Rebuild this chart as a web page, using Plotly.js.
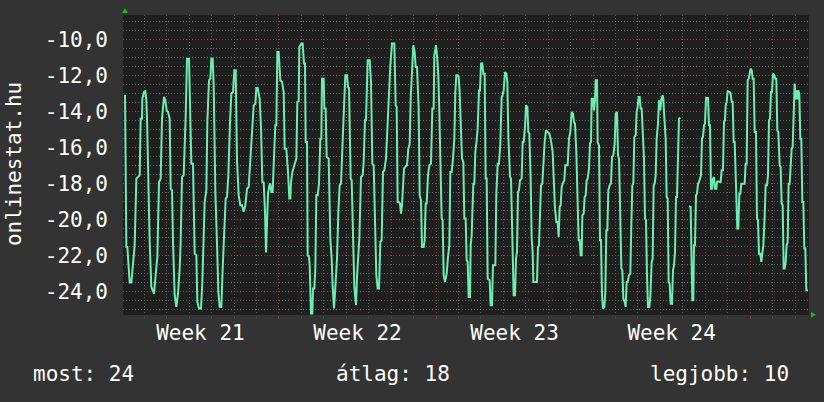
<!DOCTYPE html>
<html>
<head>
<meta charset="utf-8">
<script src="https://cdn.plot.ly/plotly-3.0.1.min.js"></script>
<style>html,body{margin:0;padding:0;background:#333333;}#chart{width:824px;height:402px;}</style>
</head>
<body>
<div id="chart"></div>
<script>
// Time in hours since the start of Week 21, and measured values
const timeHours = [
3.35,3.71,4.78,5.85,8.34,10.12,11.19,12.62,13.69,15.47,17.25,19.04,20.11,21.53,21.89,23.67,25.1,26.17,26.88,27.95,
29.73,31.51,33.3,34.37,35.8,37.93,39.71,41.5,42.92,45.06,46.49,47.91,49.34,51.12,52.19,53.62,54.69,56.47,58.25,60.03,
61.82,62.89,64.31,66.09,68.23,69.66,71.8,72.51,74.3,76.08,77.86,79.64,80.71,82.5,84.63,86.06,87.49,88.56,90.34,91.41,
93.19,94.62,95.69,97.11,98.18,99.96,101.75,103.17,104.6,106.38,107.8,109.23,111.01,112.44,113.87,115.65,117.07,118.86,120.28,121.71,
122.42,123.14,124.92,126.7,128.48,130.27,132.05,133.83,135.61,137.4,139.18,140.96,142.74,143.81,145.24,146.31,147.38,148.8,150.23,151.66,
153.08,154.15,155.22,156.29,157.72,158.79,159.86,161.28,162.35,164.13,165.2,166.27,167.7,169.48,171.26,173.05,174.11,175.9,177.68,179.11,
180.18,180.89,182.31,183.74,185.52,186.59,187.66,189.09,189.8,191.94,193.37,194.79,195.86,196.57,198.0,198.71,200.14,200.85,202.28,203.7,
204.42,205.84,206.91,207.98,209.41,210.83,212.26,213.33,214.04,215.83,216.54,217.96,219.03,221.17,222.96,224.38,225.45,226.88,228.3,230.09,
231.51,232.94,234.36,235.43,236.5,237.93,239.0,240.78,241.85,242.92,
244.7,245.77,247.55,248.62,250.4,251.47,253.97,255.75,257.53,258.6,260.03,261.1,262.88,265.02,266.45,267.87,269.3,270.72,272.15,273.58,
275.0,276.43,277.85,279.28,280.71,282.49,283.91,285.7,287.12,288.91,291.4,292.83,293.9,294.97,296.03,297.46,298.53,299.6,300.67,301.74,
303.16,304.95,306.37,307.8,308.87,310.29,311.72,313.15,314.22,315.64,317.42,318.49,319.92,320.99,322.77,323.84,324.91,325.98,327.41,328.83,
330.62,332.04,333.47,334.18,335.96,337.03,338.46,339.53,340.95,342.02,343.09,344.16,345.59,347.37,348.8,350.22,351.29,352.72,354.14,355.57,
356.64,357.71,359.13,360.2,361.27,362.7,363.77,365.19,366.26,
367.69,368.76,369.83,370.9,372.32,373.04,374.1,375.89,376.96,378.03,379.45,380.52,381.95,383.02,384.09,385.51,386.58,388.01,389.08,390.15,
391.22,393.36,394.43,395.85,396.92,399.42,400.49,401.91,403.34,404.76,406.19,407.26,408.33,409.76,411.18,412.25,413.32,415.1,416.17,417.6,
419.02,420.45,421.52,422.59,423.66,424.73,425.8,427.58,428.65,429.72,431.15,432.21,433.64,434.71,435.78,437.21,438.28,439.34,440.06,443.98,
445.05,446.12,447.19,448.26,449.68,450.75,452.18,453.6,455.39,457.17,458.6,459.67,460.73,462.16,463.23,464.66,466.08,467.15,468.22,469.29,
470.36,471.43,473.21,474.28,476.78,478.2,479.63,481.05,482.48,483.55,484.62,486.04,487.47,488.54,
489.62,490.69,491.76,492.47,493.9,494.97,496.04,497.1,498.17,499.6,500.67,501.74,502.45,503.88,504.95,506.02,506.73,508.16,508.87,510.3,
511.36,512.43,513.5,514.57,516.0,517.07,518.14,519.21,520.28,521.7,523.13,524.2,525.62,527.05,528.12,529.55,530.62,531.69,532.75,534.18,
535.25,536.32,537.75,538.82,539.88,540.95,542.38,543.81,544.88,545.95,547.01,548.08,549.51,550.58,551.65,552.72,553.79,554.86,555.93,557.0,
558.42,559.49,560.56,561.63,562.7,564.13,565.2,566.62,567.69,568.76,569.83,570.9,571.97,573.4,574.47,575.89,576.96,578.39,579.1,579.81,
580.88,581.6,582.66,583.73,584.8,585.87,586.94,588.37,589.44,590.51,591.58,592.65,593.71,594.43,595.14,595.85,597.28,602.0,606.55,
607.26,608.33,609.04,610.11,611.18,611.89,612.96,614.03,615.1,616.17,617.24,618.31,619.38,620.45,621.52,622.59,623.66,624.73,626.87,627.94,
629.01,630.08,631.15,632.22,633.28,634.35,635.78,636.49,637.56,639.35,640.41,641.48,642.91,643.98,645.05,645.76,646.83,647.9,648.97,650.04,
651.11,652.18,653.25,654.32,655.39,657.17,658.24,659.31,660.38,661.45,662.52,666.08,667.15,668.22,669.29,670.36,671.43,672.5,673.57,674.64,
675.71,676.78,678.2,679.27,680.34,681.41,682.84,683.91,684.98,686.05,687.47,688.54,689.97,691.04,692.11,693.18,694.25,695.32,696.39,697.81,
698.88,699.95,701.02,702.09,703.52,704.59,705.66,706.73,707.79,708.86,709.93,711.0,712.07,713.14,714.21,715.28,716.35,717.42,718.49,719.56,
720.63,721.7,722.77,723.48,724.55,725.62,726.69,727.76,728.83,729.9,730.97,732.04,733.82
];
const values = [
-13.08,-16.85,-21.54,-21.54,-23.52,-23.52,-22.93,-22.37,-21.45,-17.74,-17.65,-17.56,-14.41,-14.41,-13.30,-12.93,-12.89,-13.39,-14.41,-17.74,
-21.26,-23.76,-24.04,-24.13,-23.30,-22.09,-17.93,-17.74,-14.41,-13.20,-13.39,-13.95,-14.04,-14.41,-18.30,-18.39,-21.26,-24.22,-24.87,-24.13,
-22.74,-21.26,-17.65,-17.56,-14.32,-11.08,-11.08,-12.84,-16.91,-16.91,-21.91,-22.00,-24.59,-24.96,-24.96,-23.48,-19.96,-19.04,-18.39,-14.59,
-12.28,-12.19,-11.08,-11.08,-12.56,-18.48,-21.35,-24.04,-24.87,-24.87,-22.74,-20.80,-18.85,-18.76,-17.56,-14.59,-13.02,-12.93,-11.72,-11.72,
-13.76,-16.72,-18.67,-19.22,-19.22,-19.59,-19.22,-18.30,-18.21,-16.63,-14.87,-13.67,-13.58,-12.71,-12.71,-13.11,-13.30,-14.87,-17.93,-17.96,
-19.59,-21.85,-19.59,-18.58,-18.11,-18.02,-18.48,-18.48,-17.00,-14.78,-14.78,-10.70,-10.70,-12.28,-12.37,-12.93,-16.08,-16.08,-17.37,-18.85,
-18.85,-17.93,-17.37,-17.09,-16.72,-16.63,-13.48,-13.45,-10.43,-10.24,-10.24,-11.35,-11.35,-15.71,-15.71,-22.00,-22.09,-22.56,-25.24,-25.24,
-23.85,-23.85,-22.74,-18.67,-18.67,-18.02,-15.52,-15.52,-12.19,-12.19,-13.85,-13.85,-16.54,-16.63,-21.08,-22.19,-23.76,-24.96,-23.76,-22.19,
-19.59,-18.11,-18.02,-16.91,-15.15,-13.30,-12.00,-12.00,-12.65,-12.71,
-17.74,-17.84,-21.08,-23.76,-24.78,-23.20,-21.08,-17.65,-17.56,-16.82,-14.50,-14.50,-11.17,-11.17,-12.37,-16.91,-17.00,-20.06,-23.11,-23.85,
-23.85,-21.26,-21.17,-17.37,-17.28,-16.63,-14.87,-12.84,-11.45,-10.24,-10.24,-13.67,-13.76,-19.04,-19.04,-19.13,-19.69,-19.22,-18.30,-17.19,
-17.09,-17.00,-16.08,-15.80,-13.30,-11.82,-10.33,-10.70,-11.54,-11.54,-13.85,-18.67,-18.95,-21.54,-21.54,-21.17,-19.13,-19.13,-17.56,-17.00,
-16.91,-13.85,-13.85,-10.89,-10.33,-10.89,-12.00,-14.04,-17.00,-19.96,-20.06,-23.11,-23.48,-23.02,-22.09,-21.45,-17.37,-17.37,-16.63,-15.52,
-12.93,-12.00,-12.00,-12.09,-12.93,-14.59,-16.63,-16.82,-19.96,
-19.96,-22.28,-22.37,-24.32,-24.32,-21.45,-20.89,-18.02,-18.02,-16.26,-15.61,-14.96,-12.84,-12.84,-11.35,-11.35,-11.91,-11.91,-17.74,-17.74,
-23.30,-23.39,-24.78,-24.78,-22.56,-22.56,-18.58,-16.91,-16.91,-15.80,-13.20,-13.11,-12.84,-11.82,-11.91,-12.37,-15.34,-17.65,-17.74,-20.61,
-24.22,-24.22,-22.19,-21.82,-18.48,-18.39,-17.84,-17.74,-15.71,-15.71,-14.87,-13.67,-13.76,-15.15,-15.24,-17.74,-21.08,-21.82,-23.48,-23.48,
-21.54,-21.45,-19.59,-18.11,-18.02,-16.63,-15.71,-15.06,-15.15,-15.24,-15.52,-16.08,-16.26,-18.11,-19.41,-20.15,-20.15,-20.98,-19.32,-19.22,
-18.21,-18.02,-17.84,-17.00,-17.00,-15.52,-15.15,-14.04,-14.13,-14.59,-14.69,-16.26,-19.96,-21.17,
-21.17,-22.00,-22.00,-19.78,-19.69,-18.76,-18.67,-17.84,-17.74,-17.19,-15.80,-15.71,-13.30,-13.30,-13.95,-13.39,-12.28,-12.28,-15.71,-15.89,
-21.17,-21.17,-24.22,-24.96,-24.87,-24.04,-20.61,-20.61,-18.39,-18.11,-18.02,-16.54,-16.45,-15.80,-14.13,-14.04,-16.45,-16.63,-19.04,-22.74,
-22.84,-24.41,-24.59,-24.87,-23.48,-23.48,-23.11,-23.02,-20.34,-18.11,-18.02,-15.43,-15.34,-14.04,-13.76,-13.20,-13.20,-13.85,-13.85,-15.61,
-16.63,-19.96,-20.06,-23.11,-24.87,-24.87,-24.32,-22.37,-22.19,-18.11,-18.02,-17.56,-15.52,-14.69,-13.39,-13.95,-13.39,-13.11,-13.30,-14.04,
-15.52,-15.52,-18.76,-18.85,-23.48,-23.58,-24.69,-24.69,-22.84,-22.56,-21.82,-18.76,-18.76,-17.00,-17.00,-14.41,-14.37,null,-19.28,
-19.28,-19.32,-21.45,-24.50,-24.50,-21.45,-21.45,-18.67,-18.58,-18.02,-17.93,-17.65,-17.56,-15.52,-15.43,-14.78,-14.69,-13.26,-13.26,-14.78,
-14.78,-18.30,-18.30,-17.74,-17.65,-18.30,-18.30,-17.93,-17.89,-17.93,-17.93,-17.28,-17.28,-14.59,-14.50,-13.67,-13.48,-12.89,-12.89,-12.93,
-13.02,-13.48,-13.48,-15.71,-15.71,-18.58,-20.52,-20.52,-18.58,-18.58,-18.02,-18.02,-16.91,-16.91,-12.28,-12.19,-11.82,-11.63,-11.72,-12.19,
-12.19,-15.15,-15.15,-19.96,-20.06,-21.91,-21.91,-22.37,-21.91,-21.45,-19.87,-18.11,-18.11,-17.56,-14.50,-14.41,-12.93,-12.93,-11.91,-12.00,
-12.19,-12.19,-15.06,-15.15,-17.00,-17.09,-19.13,-19.22,-22.74,-22.74,-22.37,-21.45,-21.26,-18.02,-18.02,-17.00,-16.08,-15.98,-13.48,-12.46,
-13.34,-12.84,-13.34,-12.84,-13.02,-15.52,-15.52,-19.04,-19.04,-21.63,-21.63,-23.95,-23.95
];

const weekCenters = [84, 252, 420, 588];
const weekLabels = ['Week 21', 'Week 22', 'Week 23', 'Week 24'];
const yTickVals = [-24, -22, -20, -18, -16, -14, -12, -10];
const yTickText = ['-24,0', '-22,0', '-20,0', '-18,0', '-16,0', '-14,0', '-12,0', '-10,0'];
const axisTitle = 'onlinestat.hu';
const footerLeft = 'most: 24';
const footerMid = 'átlag: 18';
const footerRight = 'legjobb: 10';

const X_RANGE = [1.2, 734.9];
const Y_RANGE = [-25.32, -8.65];
const FONT = 'DejaVu Sans Mono, monospace';
const MAJOR = '#7e4444';
const MINOR = '#5a5a5a';
const DOTS = '1px,2px';

const traces = [
  {
    x: timeHours, y: values, type: 'scatter', mode: 'lines',
    line: {color: '#6eedb3', width: 2}, connectgaps: false,
    hoverinfo: 'skip', xaxis: 'x', yaxis: 'y'
  },
  { x: [], y: [], type: 'scatter', mode: 'lines', xaxis: 'x2', yaxis: 'y', hoverinfo: 'skip' }
];

const layout = {
  width: 824, height: 402,
  paper_bgcolor: '#333333', plot_bgcolor: '#1f1f1f',
  margin: {l: 123, r: 15, t: 15, b: 87, pad: 0},
  showlegend: false,
  font: {family: FONT, size: 21, color: '#ffffff'},
  xaxis: {
    range: X_RANGE, tick0: 0, dtick: 168, showticklabels: false,
    showgrid: true, gridcolor: MAJOR, griddash: DOTS, gridwidth: 1,
    ticks: 'outside', ticklen: 3, tickcolor: '#8a4646', zeroline: false, showline: false,
    minor: {tick0: 0, dtick: 24, showgrid: true, gridcolor: MINOR, griddash: DOTS, gridwidth: 1,
            ticks: 'outside', ticklen: 3, tickcolor: '#4a4a4a'}
  },
  xaxis2: {
    overlaying: 'x', anchor: 'y', side: 'bottom', range: X_RANGE,
    tickmode: 'array', tickvals: weekCenters, ticktext: weekLabels,
    showgrid: false, zeroline: false, ticks: '', showline: false,
    tickfont: {family: FONT, size: 21, color: '#ffffff'}, ticklabelstandoff: 3
  },
  yaxis: {
    range: Y_RANGE, tickmode: 'array', tickvals: yTickVals, ticktext: yTickText,
    showgrid: true, gridcolor: MAJOR, griddash: DOTS, gridwidth: 1,
    zeroline: false, ticks: '', showline: false, ticklabelstandoff: 14,
    tickfont: {family: FONT, size: 21, color: '#ffffff'},
    minor: {tick0: 0, dtick: 0.5, showgrid: true, gridcolor: MINOR, griddash: DOTS, gridwidth: 1}
  },
  shapes: [
    {type: 'path', xref: 'paper', yref: 'paper', path: 'M 0.0029 1.0233 L -0.0015 1.0067 L 0.0073 1.0067 Z',
     fillcolor: '#00cc00', line: {width: 0}},
    {type: 'path', xref: 'paper', yref: 'paper', path: 'M 1.0098 0.001 L 1.0029 0.011 L 1.0029 -0.009 Z',
     fillcolor: '#00cc00', line: {width: 0}}
  ],
  annotations: [
    {text: axisTitle, xref: 'paper', yref: 'paper', x: -0.1589, y: 0.503, xanchor: 'center', yanchor: 'middle',
     textangle: -90, showarrow: false, font: {family: FONT, size: 21, color: '#ffffff'}},
    {text: footerLeft, xref: 'paper', yref: 'paper', x: -0.1341, y: -0.197, xanchor: 'left', yanchor: 'middle',
     showarrow: false, font: {family: FONT, size: 21, color: '#ffffff'}},
    {text: footerMid, xref: 'paper', yref: 'paper', x: 0.3943, y: -0.197, xanchor: 'center', yanchor: 'middle',
     showarrow: false, font: {family: FONT, size: 21, color: '#ffffff'}},
    {text: footerRight, xref: 'paper', yref: 'paper', x: 0.9738, y: -0.197, xanchor: 'right', yanchor: 'middle',
     showarrow: false, font: {family: FONT, size: 21, color: '#ffffff'}}
  ]
};

Plotly.newPlot('chart', traces, layout, {displayModeBar: false, staticPlot: true});
</script>
</body>
</html>
